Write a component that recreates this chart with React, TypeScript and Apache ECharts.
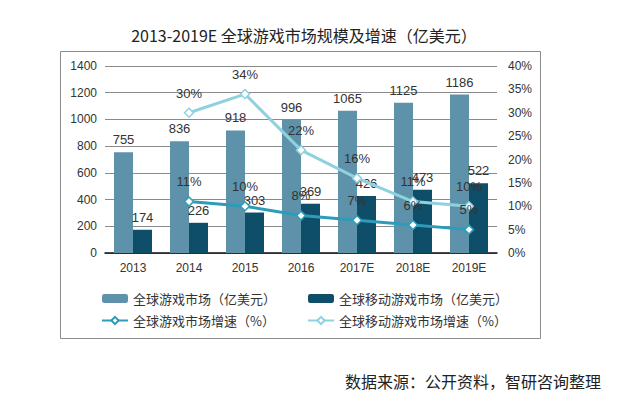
import React, { useEffect, useRef } from "react";
import * as echarts from "echarts";

const categories = ["2013", "2014", "2015", "2016", "2017E", "2018E", "2019E"];
const globalMarket = [755, 836, 918, 996, 1065, 1125, 1186];
const mobileMarket = [174, 226, 303, 369, 426, 473, 522];
const globalGrowth: (number | null)[] = [null, 11, 10, 8, 7, 6, 5];
const mobileGrowth: (number | null)[] = [null, 30, 34, 22, 16, 11, 10];

const names = [
  "全球游戏市场（亿美元）",
  "全球移动游戏市场（亿美元）",
  "全球游戏市场增速（%）",
  "全球移动游戏市场增速（%）",
];

const cjk = "'Noto Sans CJK SC', 'Liberation Sans', sans-serif";
const num = "'Liberation Sans', Arial, sans-serif";

export default function App() {
  const ref = useRef<HTMLDivElement>(null);
  useEffect(() => {
    if (!ref.current) return;
    const chart = echarts.init(ref.current, null, { renderer: "svg" });
    chart.setOption({
      animation: false,
      backgroundColor: "#ffffff",
      title: {
        text: "2013-2019E 全球游戏市场规模及增速（亿美元）",
        left: 299,
        textAlign: "center",
        top: 22,
        textStyle: { fontFamily: "'Noto Sans CJK SC', serif", fontSize: 16, fontWeight: "normal", color: "#222" },
      },
      graphic: [
        {
          type: "rect",
          shape: { x: 60.5, y: 51.5, width: 480, height: 287 },
          style: { fill: "none", stroke: "#8c8c8c", lineWidth: 1 },
          silent: true,
        },
        {
          type: "text",
          x: 601,
          y: 381,
          style: {
            text: "数据来源：公开资料，智研咨询整理",
            fontFamily: cjk,
            fontSize: 16,
            fill: "#222",
            textAlign: "right",
            textVerticalAlign: "middle",
          },
        },
      ],
      grid: { left: 105, right: 123, top: 66, bottom: 142, containLabel: false },
      legend: [
        {
          data: [names[0], names[2]],
          orient: "vertical",
          left: 96,
          top: 287,
          itemWidth: 26,
          itemHeight: 9,
          itemGap: 9,
          textStyle: { fontFamily: cjk, fontSize: 13, color: "#333" },
        },
        {
          data: [names[1], names[3]],
          orient: "vertical",
          left: 302,
          top: 287,
          itemWidth: 26,
          itemHeight: 9,
          itemGap: 9,
          textStyle: { fontFamily: cjk, fontSize: 13, color: "#333" },
        },
      ],
      xAxis: {
        type: "category",
        data: categories,
        axisLine: { lineStyle: { color: "#111", width: 1.5 } },
        axisTick: { show: false },
        axisLabel: { fontFamily: num, fontSize: 12, color: "#333", margin: 9 },
      },
      yAxis: [
        {
          type: "value",
          min: 0,
          max: 1400,
          interval: 200,
          axisLine: { show: false },
          axisTick: { show: false },
          splitLine: { lineStyle: { color: "#8a8a8a", width: 1 } },
          axisLabel: {
            fontFamily: num,
            fontSize: 12,
            color: "#333",
            margin: 8,
            formatter: (v: number) => String(v),
          },
        },
        {
          type: "value",
          min: 0,
          max: 40,
          interval: 5,
          axisLine: { show: false },
          axisTick: { show: false },
          splitLine: { show: false },
          axisLabel: { fontFamily: num, fontSize: 12, color: "#333", margin: 11, formatter: "{value}%" },
        },
      ],
      series: [
        {
          name: names[0],
          type: "bar",
          data: globalMarket,
          barWidth: 19,
          barGap: "0%",
          itemStyle: { color: "#5E92AB" },
          label: { show: true, position: "top", distance: 6, fontFamily: num, fontSize: 13, color: "#333" },
        },
        {
          name: names[1],
          type: "bar",
          data: mobileMarket,
          barWidth: 19,
          barGap: "0%",
          itemStyle: { color: "#0E4E69" },
          label: { show: true, position: "top", distance: 6, fontFamily: num, fontSize: 13, color: "#333" },
        },
        {
          name: names[2],
          type: "line",
          yAxisIndex: 1,
          data: globalGrowth,
          symbol: "diamond",
          symbolSize: 9,
          lineStyle: { color: "#2C9CB9", width: 3 },
          itemStyle: { color: "#ffffff", borderColor: "#2C9CB9", borderWidth: 1.5 },
          label: { show: true, position: "top", distance: 8, fontFamily: num, fontSize: 13, color: "#333", formatter: "{c}%" },
        },
        {
          name: names[3],
          type: "line",
          yAxisIndex: 1,
          data: mobileGrowth,
          symbol: "diamond",
          symbolSize: 9,
          lineStyle: { color: "#8ED2E0", width: 3 },
          itemStyle: { color: "#ffffff", borderColor: "#8ED2E0", borderWidth: 1.5 },
          label: { show: true, position: "top", distance: 8, fontFamily: num, fontSize: 13, color: "#333", formatter: "{c}%" },
        },
      ],
    });
    return () => chart.dispose();
  }, []);
  return (
    <div
      ref={ref}
      style={{ position: "absolute", left: 0, top: 0, width: 620, height: 395 }}
    />
  );
}
